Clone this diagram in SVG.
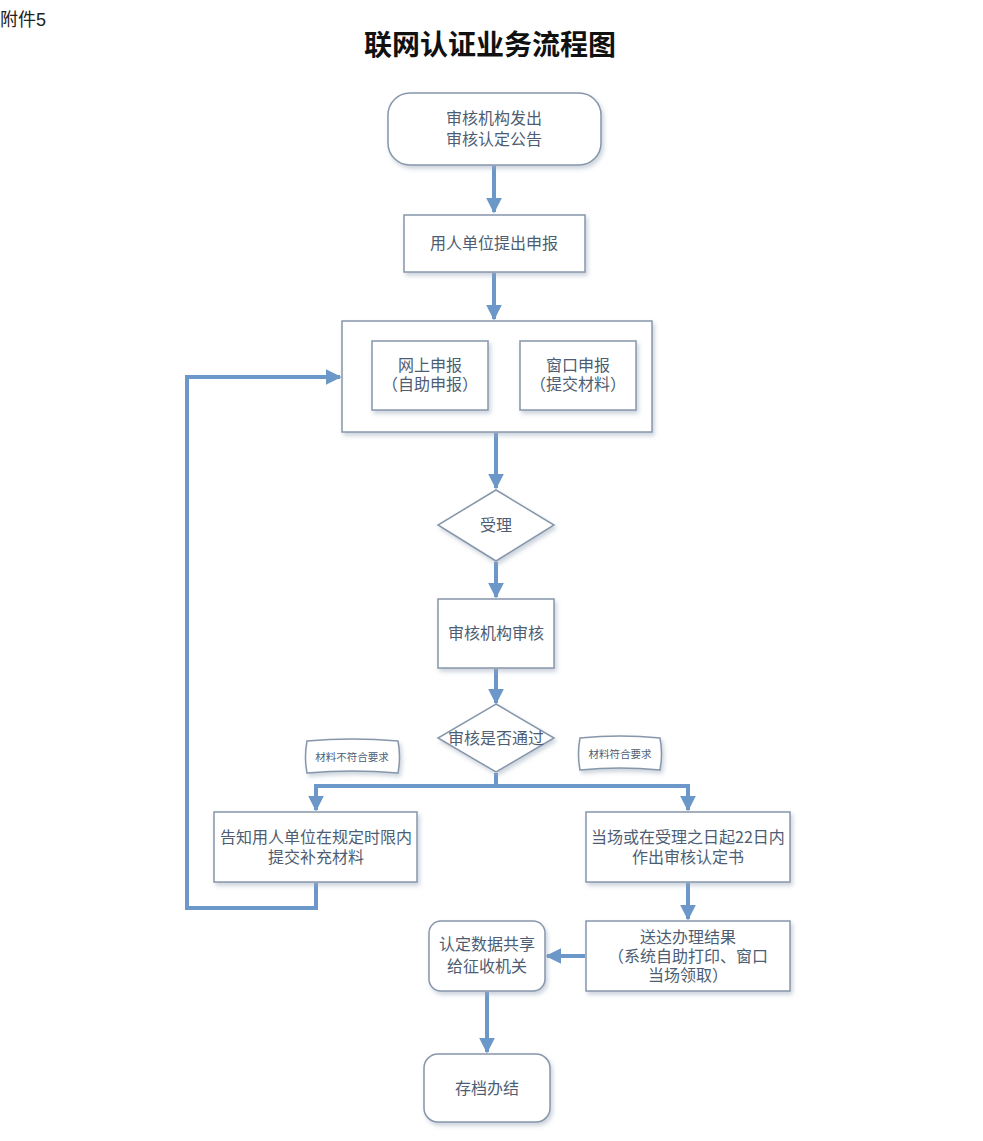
<svg xmlns="http://www.w3.org/2000/svg" width="983" height="1141" viewBox="0 0 983 1141">
<defs>
<style>
.box{fill:#fff;stroke:#8797ab;stroke-width:1.5;filter:url(#sh)}
.t{font-family:"Noto Sans CJK SC","Noto Sans",sans-serif;font-size:16px;fill:#4d5d73;text-anchor:middle}
.s{font-family:"Noto Sans CJK SC","Noto Sans",sans-serif;font-size:10.5px;fill:#4d5d73;text-anchor:middle}
.c{fill:none;stroke:#6b97c9;stroke-width:4}
</style>
<filter id="sh" x="-10%" y="-10%" width="130%" height="140%">
<feDropShadow dx="2" dy="3" stdDeviation="2" flood-color="#9aa8ba" flood-opacity="0.5"/>
</filter>
<marker id="ah" viewBox="0 0 10 10" refX="9" refY="5" markerWidth="4" markerHeight="4" orient="auto" markerUnits="strokeWidth">
<path d="M0,0 L10,5 L0,10 Z" fill="#6b97c9"/>
</marker>
</defs>
<rect width="983" height="1141" fill="#fff"/>
<text x="0" y="26" font-family="Liberation Sans,Noto Sans CJK SC,sans-serif" font-size="18" fill="#222">附件5</text>
<text x="490" y="55" font-family="Noto Sans CJK SC,sans-serif" font-weight="700" font-size="28" fill="#111" text-anchor="middle">联网认证业务流程图</text>

<g id="connectors">
<path class="c" d="M494,166 V212" marker-end="url(#ah)"/>
<path class="c" d="M494,273 V319" marker-end="url(#ah)"/>
<path class="c" d="M496,433 V488" marker-end="url(#ah)"/>
<path class="c" d="M496,562 V597" marker-end="url(#ah)"/>
<path class="c" d="M496,669 V703" marker-end="url(#ah)"/>
<path class="c" d="M496,773 V786"/>
<path class="c" d="M496,786 H316 V810" marker-end="url(#ah)"/>
<path class="c" d="M496,786 H688 V810" marker-end="url(#ah)"/>
<path class="c" d="M316,883 V908 H187 V377 H340" marker-end="url(#ah)"/>
<path class="c" d="M688,883 V919" marker-end="url(#ah)"/>
<path class="c" d="M585,956 H547" marker-end="url(#ah)"/>
<path class="c" d="M487,992 V1052" marker-end="url(#ah)"/>
</g>

<g id="n1"><rect class="box" x="388" y="93" width="213" height="72" rx="22"/>
<text class="t" x="494" y="124">审核机构发出</text><text class="t" x="494" y="145">审核认定公告</text></g>

<g id="n2"><rect class="box" x="404" y="215" width="181" height="57"/>
<text class="t" x="494" y="249">用人单位提出申报</text></g>

<g id="n3"><rect class="box" x="342" y="321" width="310" height="111"/>
<g id="n3a"><rect class="box" x="372" y="341" width="116" height="69"/>
<text class="t" x="430" y="371">网上申报</text><text class="t" x="430" y="390">（自助申报）</text></g>
<g id="n3b"><rect class="box" x="520" y="341" width="116" height="69"/>
<text class="t" x="578" y="371">窗口申报</text><text class="t" x="578" y="390">（提交材料）</text></g>
</g>

<g id="n4"><path class="box" d="M496,490 L554,525 L496,561 L438,525 Z"/>
<text class="t" x="496" y="531">受理</text></g>

<g id="n5"><rect class="box" x="438" y="599" width="116" height="69"/>
<text class="t" x="496" y="639">审核机构审核</text></g>

<g id="n6"><path class="box" d="M496,704 L554,738 L496,772 L438,738 Z"/>
<text class="t" x="496" y="744">审核是否通过</text></g>

<g id="l1"><path class="box" d="M307,741 Q352,737 398,741 Q401,757 398,773 Q352,769 307,773 Q304,757 307,741 Z"/>
<text class="s" x="352" y="761">材料不符合要求</text></g>

<g id="l2"><path class="box" d="M580,738 Q620,734 660,738 Q663,754 660,770 Q620,766 580,770 Q577,754 580,738 Z"/>
<text class="s" x="620" y="758">材料符合要求</text></g>

<g id="n7"><rect class="box" x="214" y="812" width="203" height="70"/>
<text class="t" x="316" y="843">告知用人单位在规定时限内</text><text class="t" x="316" y="863">提交补充材料</text></g>

<g id="n8"><rect class="box" x="586" y="812" width="204" height="70"/>
<text class="t" x="688" y="843">当场或在受理之日起22日内</text><text class="t" x="688" y="863">作出审核认定书</text></g>

<g id="n9"><rect class="box" x="586" y="921" width="204" height="70"/>
<text class="t" x="688" y="943">送达办理结果</text><text class="t" x="688" y="962">（系统自助打印、窗口</text><text class="t" x="688" y="981">当场领取）</text></g>

<g id="n10"><rect class="box" x="429" y="921" width="116" height="70" rx="12"/>
<text class="t" x="487" y="950">认定数据共享</text><text class="t" x="487" y="972">给征收机关</text></g>

<g id="n11"><rect class="box" x="424" y="1054" width="126" height="68" rx="14"/>
<text class="t" x="487" y="1094">存档办结</text></g>
</svg>
